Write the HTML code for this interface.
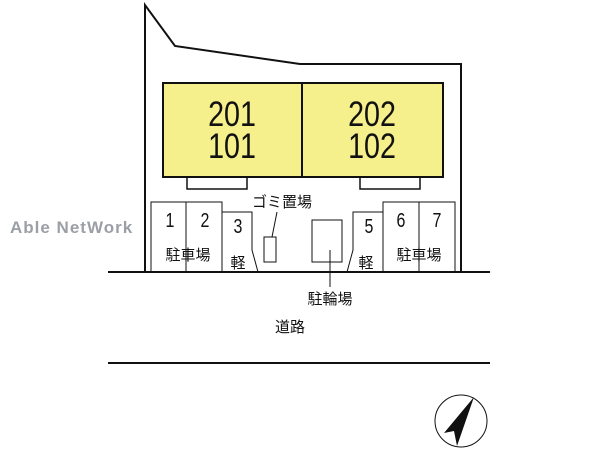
<!DOCTYPE html>
<html><head><meta charset="utf-8"><style>
body{margin:0;background:#fff}
svg text{font-family:"Liberation Sans","Noto Sans CJK JP",sans-serif;fill:#111}
</style></head><body>
<svg width="600" height="450" viewBox="0 0 600 450" xmlns="http://www.w3.org/2000/svg">
<g fill="none" stroke="#111" stroke-width="2">
<polyline points="145,272 145,5 175,46 300,64 461,64 461,272"/>
<rect x="163" y="83" width="280" height="94" fill="#f5f08c"/>
<line x1="302" y1="83" x2="302" y2="177"/>
<rect x="187" y="177" width="60" height="12" stroke-width="1.5"/>
<rect x="360" y="177" width="60" height="12" stroke-width="1.5"/>
<line x1="108" y1="272" x2="490" y2="272"/>
<line x1="108" y1="363" x2="490" y2="363"/>
</g>
<g fill="none" stroke="#111" stroke-width="1">
<polyline points="151,272 151,202 222,202 222,272"/>
<line x1="186" y1="202" x2="186" y2="272"/>
<polyline points="222,212 252,212 252,250 258,272"/>
<polyline points="383,212 353,212 353,250 347,272"/>
<polyline points="383,272 383,202 455,202 455,272"/>
<line x1="419" y1="202" x2="419" y2="272"/>
<rect x="264" y="237" width="12" height="25"/>
<line x1="277" y1="212" x2="272" y2="237"/>
<rect x="312" y="220" width="30" height="42"/>
<line x1="330" y1="250" x2="330" y2="287"/>
<circle cx="461" cy="421" r="26"/>
</g>
<polygon points="474,397 444,433 454,431 457,446" fill="#111"/>
<text x="10" y="233" font-size="17" font-weight="bold" style="fill:#9aa0a6" letter-spacing="1">Able NetWork</text>
<g font-size="35" text-anchor="middle">
<text transform="translate(232,126) scale(0.82,1)">201</text>
<text transform="translate(232,158) scale(0.82,1)">101</text>
<text transform="translate(372,126) scale(0.82,1)">202</text>
<text transform="translate(372,158) scale(0.82,1)">102</text>
</g>
<g font-size="20" text-anchor="middle">
<text transform="translate(170,227) scale(0.8,1)">1</text>
<text transform="translate(205,227) scale(0.8,1)">2</text>
<text transform="translate(238,233) scale(0.8,1)">3</text>
<text transform="translate(369,233) scale(0.8,1)">5</text>
<text transform="translate(401,227) scale(0.8,1)">6</text>
<text transform="translate(437,227) scale(0.8,1)">7</text>
</g>
<g font-size="15" text-anchor="middle">
<text x="188" y="260">駐車場</text><text x="419" y="260">駐車場</text>
<text x="238" y="268">軽</text><text x="366" y="268">軽</text>
<text x="282" y="207">ゴミ置場</text>
<text x="330" y="304">駐輪場</text>
<text x="290" y="332">道路</text>
</g>
</svg>
</body></html>
